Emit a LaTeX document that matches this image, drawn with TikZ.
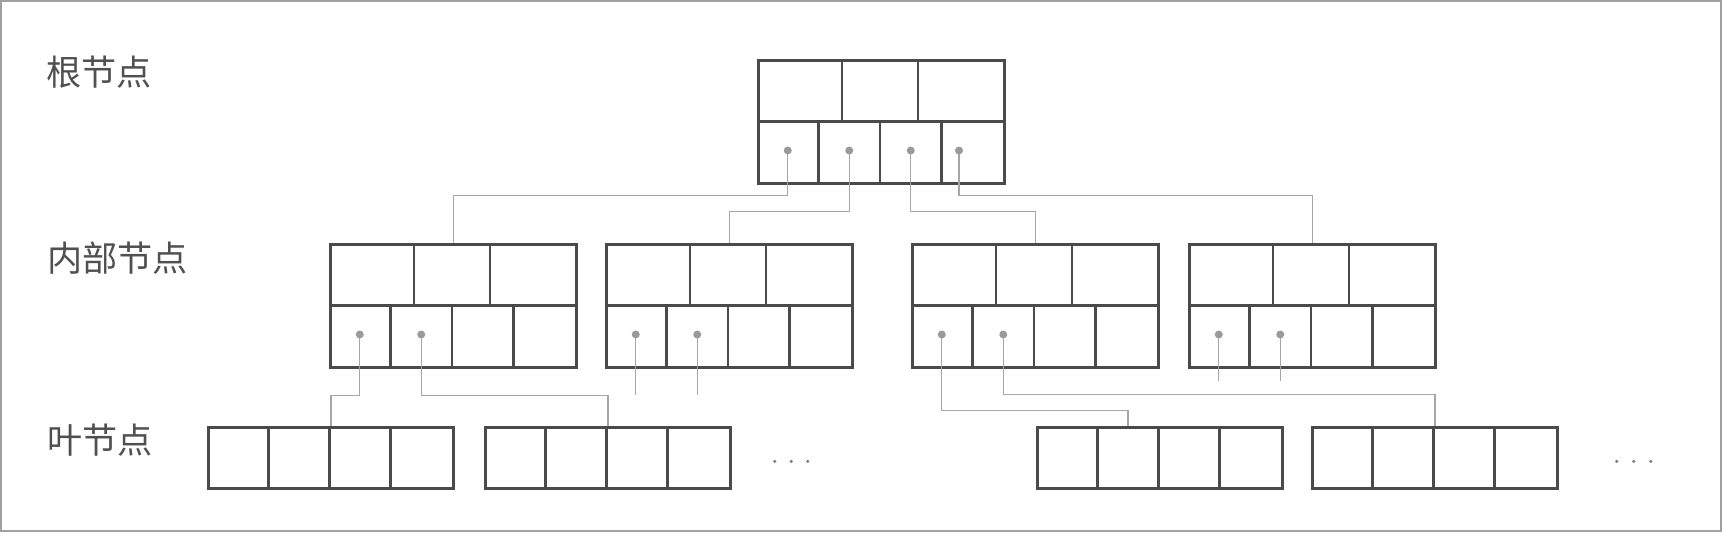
\documentclass[tikz,border=0pt]{standalone}
\usepackage{fontspec}
\newfontfamily\cjk{Noto Sans CJK SC}
\usetikzlibrary{calc}

\definecolor{boxgray}{HTML}{4A4A4A}
\definecolor{linkgray}{HTML}{A6A6A6}
\definecolor{dotgray}{HTML}{9A9A9A}
\definecolor{labelgray}{HTML}{505050}
\definecolor{framegray}{HTML}{A0A0A0}

\tikzset{
    box/.style={draw=boxgray, line width=1.6pt},
    innerbox/.style={box, minimum width=4.92cm, minimum height=2.46cm, inner sep=0pt, anchor=north west},
    leafbox/.style={box, minimum width=4.9cm, minimum height=1.22cm, inner sep=0pt, anchor=north west},
    link/.style={draw=linkgray, line width=0.7pt},
    level/.style={font=\cjk\fontsize{20}{24}\selectfont, text=labelgray, anchor=west, inner sep=0pt}
}

% keys on top, pointers below
\newcommand{\innercells}[1]{%
    \draw[box] (#1.west) -- (#1.east);
    \draw[box] ($(#1.north west)+(85,0)$) -- ($(#1.west)+(85,0)$);
    \draw[box] ($(#1.north west)+(161,0)$) -- ($(#1.west)+(161,0)$);
    \foreach \i in {1,2,3}
        \draw[box] ($(#1.west)+(61.5*\i,0)$) -- ($(#1.south west)+(61.5*\i,0)$);
    \foreach \i in {1,...,4}
        \coordinate (#1-\i) at ($(#1.north west)+(61.5*\i-30.75,91.5)$);
}
\newcommand{\leafcells}[1]{%
    \foreach \i in {1,2,3}
        \draw[box] ($(#1.north west)+(61.25*\i,0)$) -- ($(#1.south west)+(61.25*\i,0)$);
}

\begin{document}
\begin{tikzpicture}[x=0.02cm, y=-0.02cm]
    \useasboundingbox (0,0) rectangle (1726,534);
    \draw[framegray, line width=1.1pt] (1,1) rectangle (1721,531);

    % Levels
    \node[level] (lroot) at (46,72) {根节点};
    \node[level] (linner) at (47,258) {内部节点};
    \node[level] (lleaf) at (47,440) {叶节点};

    % Root
    \node[innerbox] (root) at (757,59) {};
    \innercells{root}
    \coordinate (root-4) at ($(root.north west)+(202,91.5)$);

    % Inner nodes
    \node[innerbox] (n1) at (329,243) {};
    \node[innerbox] (n2) at (605,243) {};
    \node[innerbox] (n3) at (911,243) {};
    \node[innerbox] (n4) at (1188,243) {};
    \foreach \n in {n1,n2,n3,n4} {\innercells{\n}}

    % Leaves
    \node[leafbox] (l1) at (207,426) {};
    \node[leafbox] (l2) at (484,426) {};
    \node[leafbox] (l3) at (1036,426) {};
    \node[leafbox] (l4) at (1311,426) {};
    \foreach \n in {l1,l2,l3,l4} {\leafcells{\n}}

    % Pointers
    \draw[link] (root-1) -- ++(0,45) -| (n1.north);
    \draw[link] (root-2) -- ++(0,61) -| (n2.north);
    \draw[link] (root-3) -- ++(0,61) -| (n3.north);
    \draw[link] (root-4) -- ++(0,45) -| (n4.north);
    \draw[link] (n1-1) -- ++(0,61) -| (l1.north);
    \draw[link] (n1-2) -- ++(0,61) -| (l2.north);
    \draw[link] (n2-1) -- ++(0,60);
    \draw[link] (n2-2) -- ++(0,60);
    \draw[link] (n3-1) -- ++(0,76) -| ($(l3.north west)+(92,0)$);
    \draw[link] (n3-2) -- ++(0,60) -| (l4.north);
    \draw[link] (n4-1) -- ++(0,46);
    \draw[link] (n4-2) -- ++(0,46);
    \foreach \p in {root-1,root-2,root-3,root-4,n1-1,n1-2,n2-1,n2-2,n3-1,n3-2,n4-1,n4-2}
        \fill[dotgray] (\p) circle (0.08cm);

    % More leaves
    \foreach \k in {0,1,2} {
        \fill[gray] ($(l2.east)+(43+16.5*\k,3.5)$) circle (0.035cm);
        \fill[gray] ($(l4.east)+(58+17*\k,3.5)$) circle (0.035cm);
    }
\end{tikzpicture}
\end{document}
